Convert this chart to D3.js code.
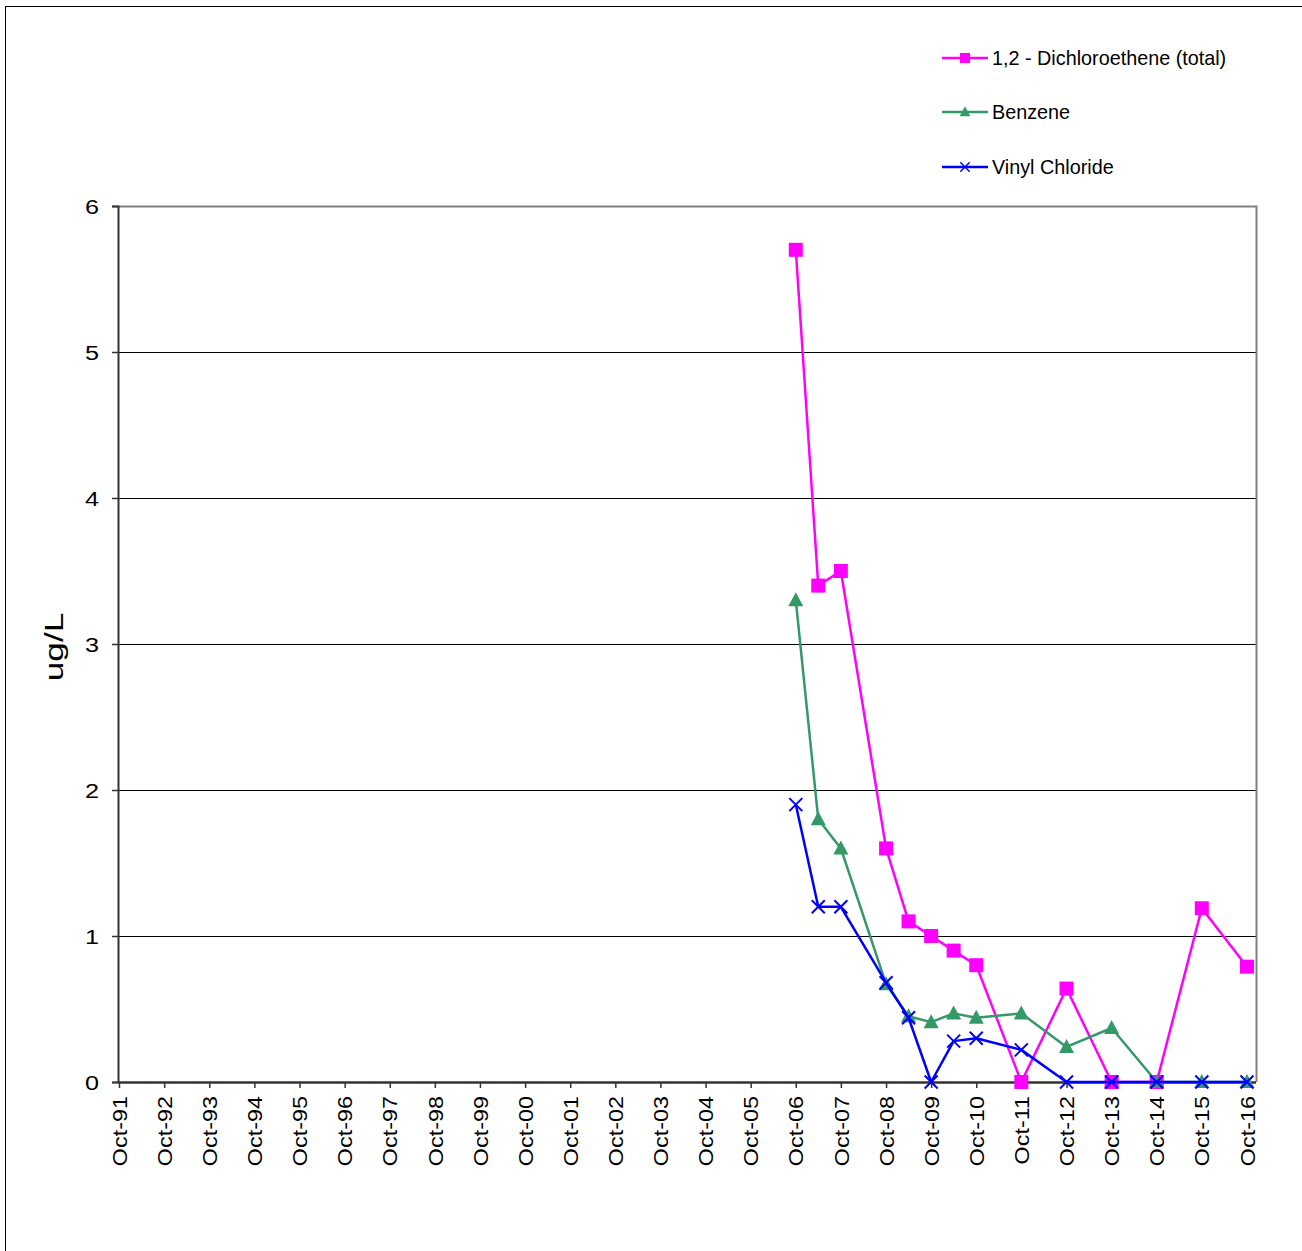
<!DOCTYPE html>
<html>
<head>
<meta charset="utf-8">
<script src="https://cdn.jsdelivr.net/npm/d3@7"></script>
<style>
  html, body { margin: 0; padding: 0; background: #fff; }
  svg { display: block; font-family: Arial, "Liberation Sans", sans-serif; }
</style>
</head>
<body>
<svg id="chart" width="1302" height="1251"></svg>
<script>
// ---- data ----
const tickLabels = ["Oct-91","Oct-92","Oct-93","Oct-94","Oct-95","Oct-96","Oct-97","Oct-98","Oct-99","Oct-00",
  "Oct-01","Oct-02","Oct-03","Oct-04","Oct-05","Oct-06","Oct-07","Oct-08","Oct-09","Oct-10",
  "Oct-11","Oct-12","Oct-13","Oct-14","Oct-15","Oct-16"];
const yTicks = [0, 1, 2, 3, 4, 5, 6];
const sampleDates = ["Oct-06","Apr-07","Oct-07","Oct-08","Apr-09","Oct-09","Apr-10","Oct-10","Oct-11","Oct-12","Oct-13","Oct-14","Oct-15","Oct-16"];
const dichloroethene = [5.7, 3.4, 3.5, 1.6, 1.1, 1.0, 0.9, 0.8, 0.0, 0.64, 0.0, 0.0, 1.19, 0.79];
const benzene        = [3.3, 1.8, 1.6, 0.67, 0.45, 0.41, 0.47, 0.44, 0.47, 0.24, 0.37, 0.0, 0.0, 0.0];
const vinylChloride  = [1.9, 1.2, 1.2, 0.68, 0.44, 0.0, 0.28, 0.30, 0.22, 0.0, 0.0, 0.0, 0.0, 0.0];
const seriesNames = ["1,2 - Dichloroethene (total)", "Benzene", "Vinyl Chloride"];
const yTitle = "ug/L";

// ---- setup ----
const parse = d3.timeParse("%b-%y");
const svg = d3.select("#chart");
const pLeft = 118, pRight = 1256, pTop = 206, pBottom = 1082;

// outer border
svg.append("rect").attr("x", 5.5).attr("y", 6.5).attr("width", 1320).attr("height", 1300)
  .attr("fill", "none").attr("stroke", "#000").attr("stroke-width", 1);

const x = d3.scaleTime()
  .domain([parse(tickLabels[0]), parse(tickLabels[tickLabels.length - 1])])
  .range([119, 1247]);
const y = d3.scaleLinear().domain([0, 6]).range([pBottom, pTop]);

// gridlines
svg.append("g").selectAll("line").data(yTicks.filter(v => v > 0 && v < 6)).join("line")
  .attr("x1", pLeft).attr("x2", pRight)
  .attr("y1", d => y(d) + 0.5).attr("y2", d => y(d) + 0.5)
  .attr("stroke", "#000").attr("stroke-width", 1);

// plot frame top/right (gray)
svg.append("path")
  .attr("d", `M${pLeft},${pTop + 0.5}H${pRight + 0.5}V${pBottom}`)
  .attr("fill", "none").attr("stroke", "#808080").attr("stroke-width", 2);

// y axis
const yAxis = svg.append("g").attr("transform", `translate(${pLeft},0)`)
  .call(d3.axisLeft(y).tickValues(yTicks).tickSize(6).tickFormat(d3.format("d")));
yAxis.select(".domain").attr("stroke", "#333").attr("stroke-width", 2);
yAxis.selectAll(".tick line").attr("stroke", "#333").attr("stroke-width", 1.5);
yAxis.selectAll(".tick text").remove();
yAxis.selectAll(".tick").append("text")
  .attr("transform", "translate(-19,0) scale(1.2,1)")
  .attr("text-anchor", "end").attr("dy", "0.36em")
  .attr("fill", "#000").style("font-size", "21px")
  .style("font-family", "Arial, 'Liberation Sans', sans-serif")
  .text(d => d);

// x axis
const xAxis = svg.append("g").attr("transform", `translate(0,${pBottom})`)
  .call(d3.axisBottom(x).tickValues(tickLabels.map(parse)).tickSize(6).tickFormat(d3.timeFormat("%b-%y")));
xAxis.select(".domain").attr("stroke", "#333").attr("stroke-width", 2.5)
  .attr("d", `M${pLeft},0.5H${pRight}`);
xAxis.selectAll(".tick line").attr("stroke", "#333").attr("stroke-width", 1.5);
xAxis.selectAll(".tick text").remove();
xAxis.selectAll(".tick").append("text")
  .attr("transform", "translate(0,14) rotate(-90) scale(1.17,1)")
  .attr("text-anchor", "end").attr("dy", "0.36em")
  .attr("fill", "#000").style("font-size", "20px")
  .style("font-family", "Arial, 'Liberation Sans', sans-serif")
  .text((d, i) => tickLabels[i]);

// y title
svg.append("text")
  .attr("transform", "translate(63,647) rotate(-90) scale(1.38,1)")
  .attr("text-anchor", "middle")
  .style("font-size", "25.5px")
  .text(yTitle);

// ---- series ----
const dates = sampleDates.map(parse);
const series = [
  { name: seriesNames[0], values: dichloroethene, color: "#FF00FF", marker: "square" },
  { name: seriesNames[1], values: benzene, color: "#339966", marker: "triangle" },
  { name: seriesNames[2], values: vinylChloride, color: "#0000FF", marker: "x" }
];

function drawMarker(g, type, color) {
  if (type === "square") {
    g.append("rect").attr("x", -7).attr("y", -7).attr("width", 14).attr("height", 14)
      .attr("fill", color);
  } else if (type === "triangle") {
    g.append("path").attr("d", "M0,-8L7.5,6L-7.5,6Z").attr("fill", color);
  } else {
    g.append("path").attr("d", "M-6.5,-6.5L6.5,6.5M-6.5,6.5L6.5,-6.5").attr("stroke", color)
      .attr("stroke-width", 2).attr("fill", "none");
  }
}

const line = d3.line().x(d => x(d[0])).y(d => y(d[1]));

series.forEach(s => {
  const pts = dates.map((d, i) => [d, s.values[i]]);
  const g = svg.append("g");
  g.append("path").datum(pts).attr("d", line)
    .attr("fill", "none").attr("stroke", s.color).attr("stroke-width", 2.5)
    .attr("stroke-linejoin", "round");
  g.selectAll("g.m").data(pts).join("g").attr("class", "m")
    .attr("transform", d => `translate(${x(d[0])},${y(d[1])})`)
    .each(function() { drawMarker(d3.select(this), s.marker, s.color); });
});

// ---- legend ----
const legendY = [58, 112, 167];
series.forEach((s, i) => {
  const g = svg.append("g").attr("transform", `translate(942,${legendY[i]})`);
  g.append("line").attr("x1", 0).attr("x2", 46).attr("y1", 0).attr("y2", 0)
    .attr("stroke", s.color).attr("stroke-width", 2.5);
  const m = g.append("g").attr("transform", "translate(23,0) scale(0.72)");
  drawMarker(m, s.marker, s.color);
  g.append("text").attr("x", 50).attr("dy", "0.36em")
    .style("font-size", "19.8px").text(s.name);
});
</script>
</body>
</html>
